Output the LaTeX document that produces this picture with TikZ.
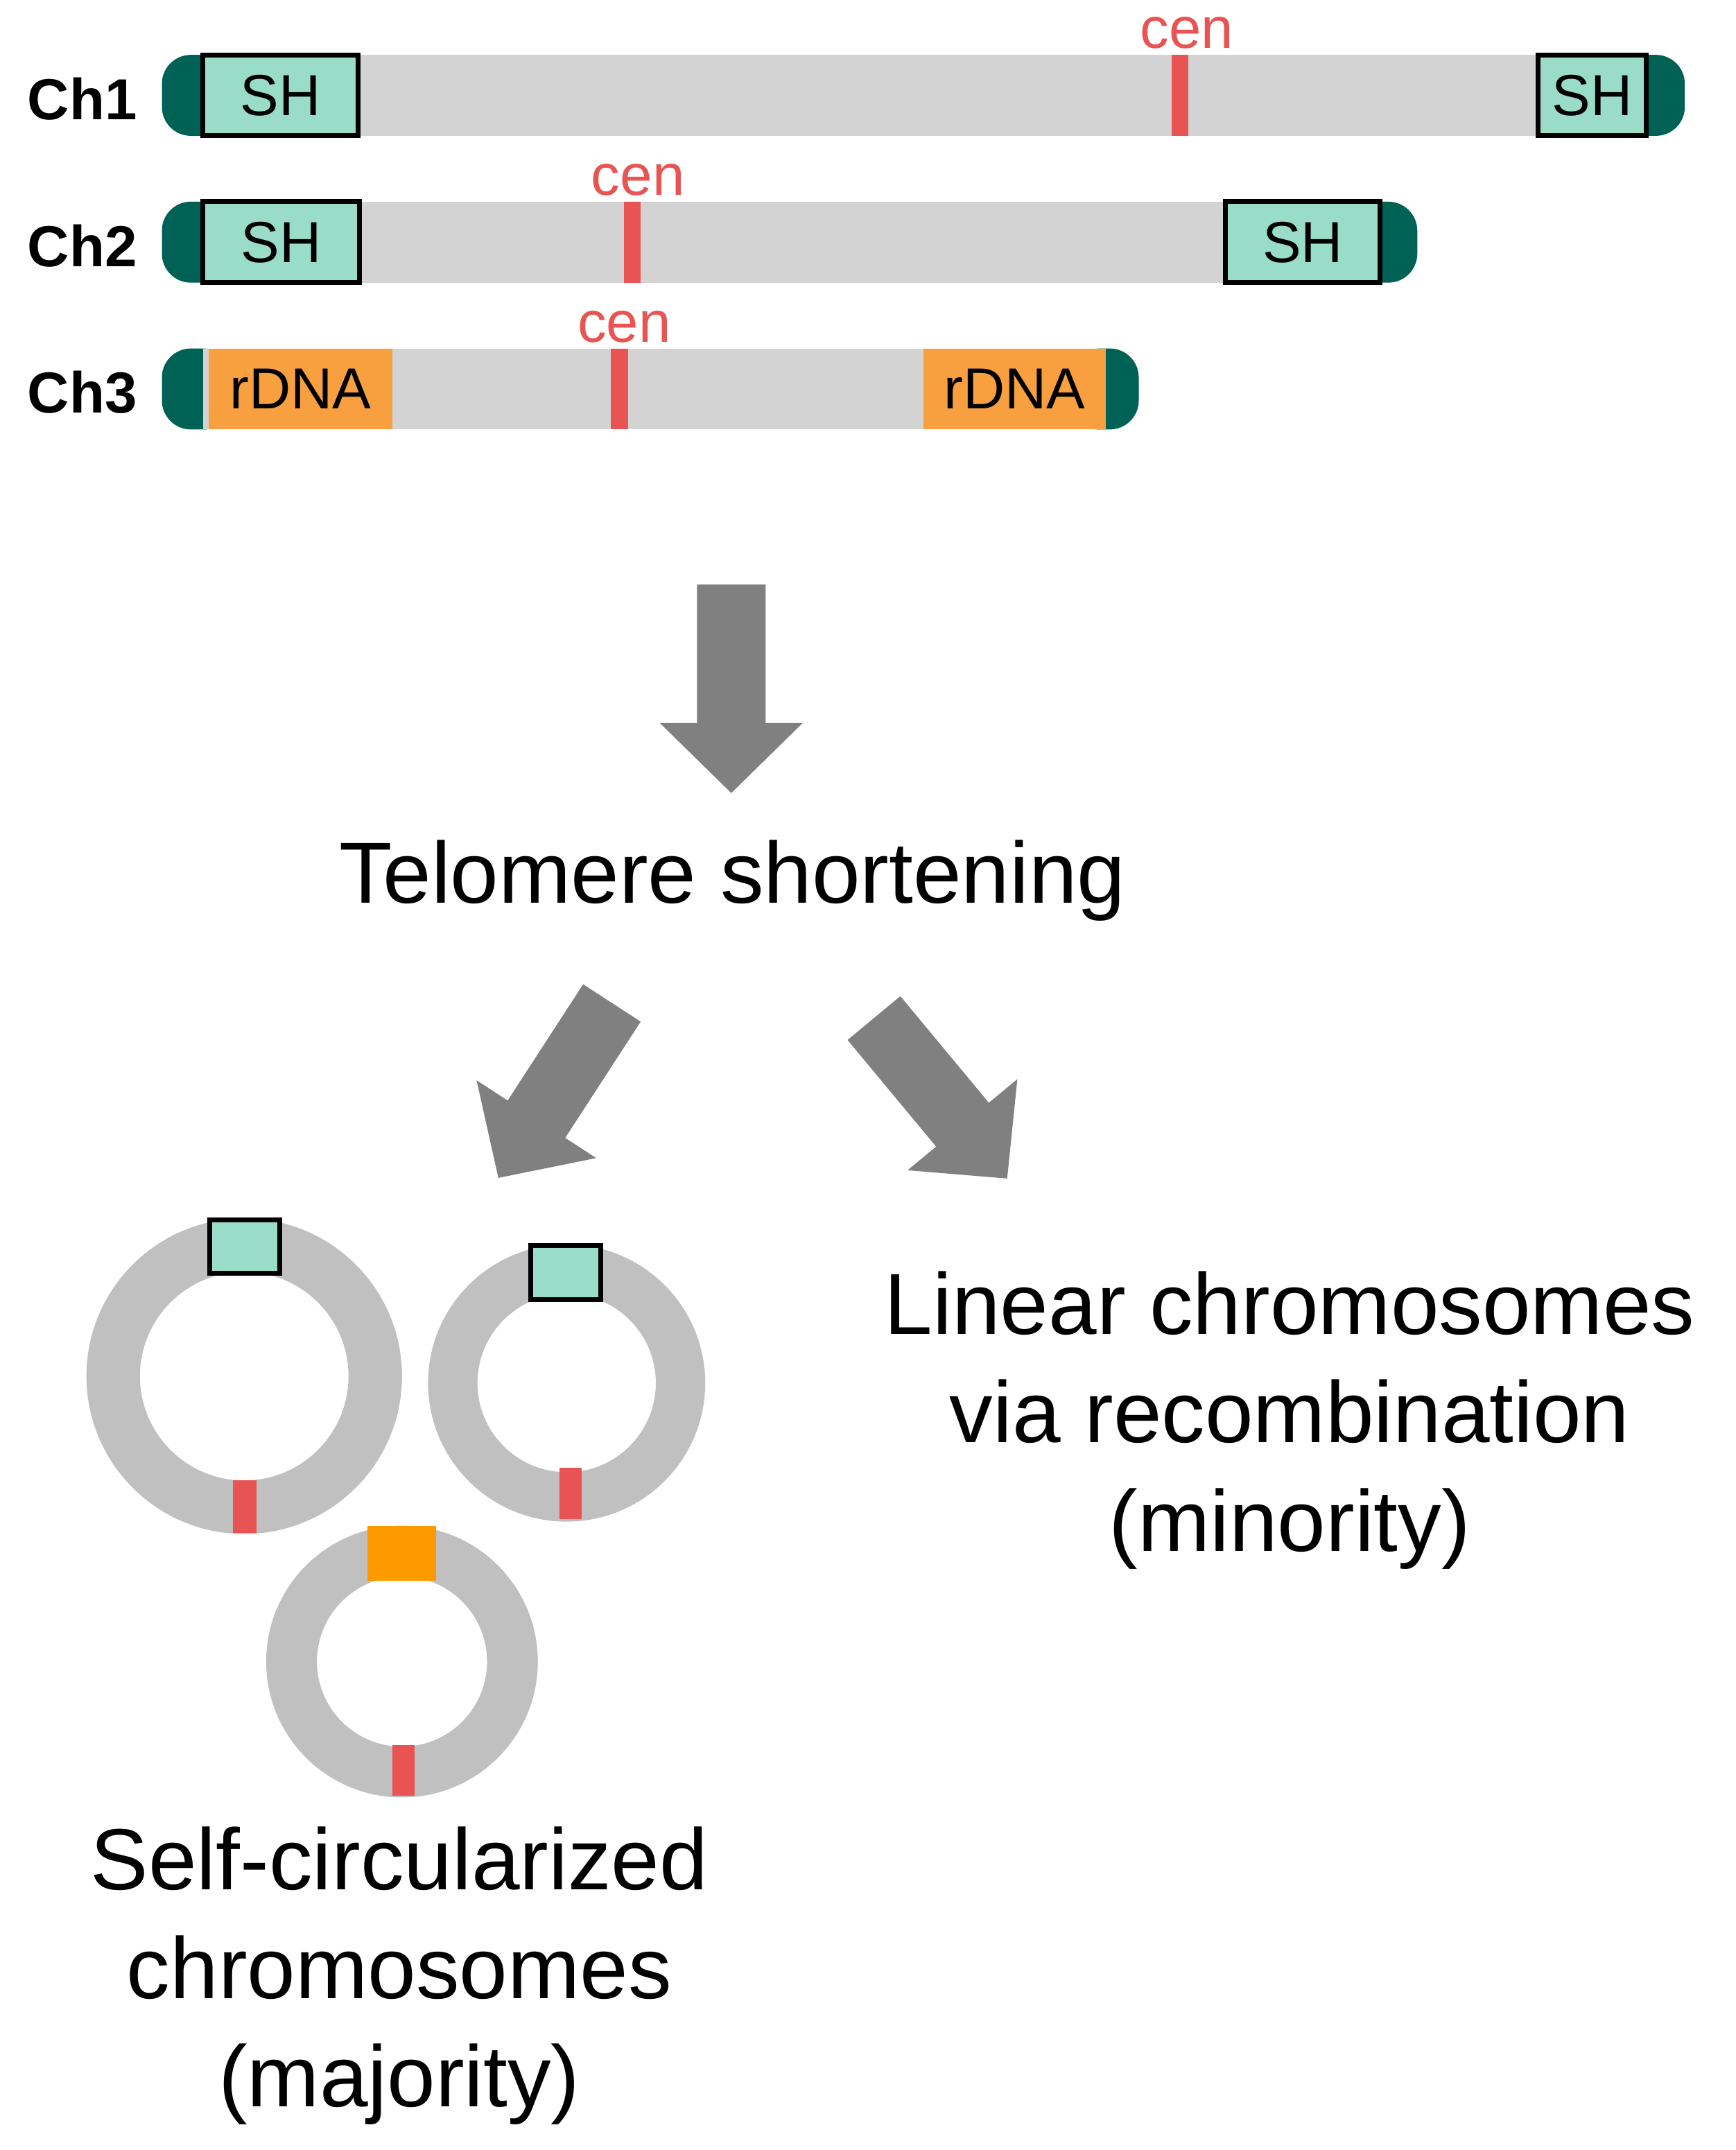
\documentclass[tikz,border=0pt]{standalone}
\usepackage{fontspec}
\setmainfont{Liberation Sans}
\begin{document}
\begin{tikzpicture}[x=0.02cm,y=-0.02cm,
  bar/.style={fill=barg},
  tel/.style={fill=teldark},
  sh/.style={fill=shg,draw=black,line width=2pt},
  rd/.style={fill=rdna},
  cenm/.style={fill=cenr},
  cent/.style={text=cenr,font=\fontsize{24}{28}\selectfont},
  chl/.style={font=\fontsize{24}{28}\selectfont\bfseries},
  lab/.style={font=\fontsize{24}{28}\selectfont},
  big/.style={font=\fontsize{36}{45}\selectfont,align=center},
  ring/.style={fill=ringg,even odd rule}]
\definecolor{barg}{HTML}{D3D3D3}
\definecolor{ringg}{HTML}{C0C0C0}
\definecolor{teldark}{HTML}{006155}
\definecolor{shg}{HTML}{99DDC8}
\definecolor{rdna}{HTML}{F8A040}
\definecolor{cenr}{HTML}{E85454}
\definecolor{arr}{HTML}{808080}
\definecolor{orb}{HTML}{FF9900}
\useasboundingbox (0,0) rectangle (1265,1567);
% Ch1
\node[chl] (c1) at (60,72) {Ch1};
\fill[tel,rounded corners=12] (118,40) rectangle (170,99);
\fill[tel,rounded corners=12] (1180,40) rectangle (1228,99);
\fill[bar] (148,40) rectangle (1200,99);
\draw[sh] (148,40) rectangle node[lab]{SH} (261,99);
\draw[sh] (1121,40) rectangle node[lab]{SH} (1200,99);
\fill[cenm] (854,40) rectangle (866,99);
\node[cent] (cen1) at (865,24) {cen};
% Ch2
\node[chl] (c2) at (60,179) {Ch2};
\fill[tel,rounded corners=12] (118,147) rectangle (170,206);
\fill[tel,rounded corners=12] (985,147) rectangle (1033,206);
\fill[bar] (148,147) rectangle (1006,206);
\draw[sh] (148,147) rectangle node[lab]{SH} (262,206);
\draw[sh] (893,147) rectangle node[lab]{SH} (1006,206);
\fill[cenm] (455,147) rectangle (467,206);
\node[cent] (cen2) at (465,131) {cen};
% Ch3
\node[chl] (c3) at (60,286) {Ch3};
\fill[tel,rounded corners=12] (118,254) rectangle (170,313);
\fill[tel,rounded corners=12] (780,254) rectangle (830,313);
\fill[bar] (148,254) rectangle (806,313);
\fill[rd] (152,254) rectangle node[lab]{rDNA} (286,313);
\fill[rd] (673,254) rectangle node[lab]{rDNA} (806,313);
\fill[cenm] (445,254) rectangle (458,313);
\node[cent] (cen3) at (455,238) {cen};
% arrows
\tikzset{pics/bigarrow/.style={code={\fill[arr] (0,-25)--(101,-25)--(101,-52)--(152,0)--(101,52)--(101,25)--(0,25)--cycle;}}}
\pic[rotate=-90] at (533,426) {bigarrow};
\pic[rotate=-123] at (446,731) {bigarrow};
\pic[rotate=-50.3] at (637,742) {bigarrow};
\node[big] (tel) at (534,642) {Telomere shortening};
% circles
\fill[ring] (178,1003) circle (115) (178,1003) circle (76);
\fill[shg,draw=black,line width=2pt] (153,889) rectangle (204,928);
\fill[cenm] (170,1079) rectangle (187,1117);
\fill[ring] (413,1008) circle (101) (413,1008) circle (65);
\fill[shg,draw=black,line width=2pt] (387,908) rectangle (438,947);
\fill[cenm] (408,1070) rectangle (424,1107);
\fill[ring] (293,1211) circle (99) (293,1211) circle (62);
\fill[orb] (268,1112) rectangle (318,1152);
\fill[cenm] (286,1272) rectangle (302,1309);
\node[big] (self) at (291,1440) {Self-circularized\\chromosomes\\(majority)};
\node[big] (lin) at (940,1035) {Linear chromosomes\\via recombination\\(minority)};
\end{tikzpicture}
\end{document}
